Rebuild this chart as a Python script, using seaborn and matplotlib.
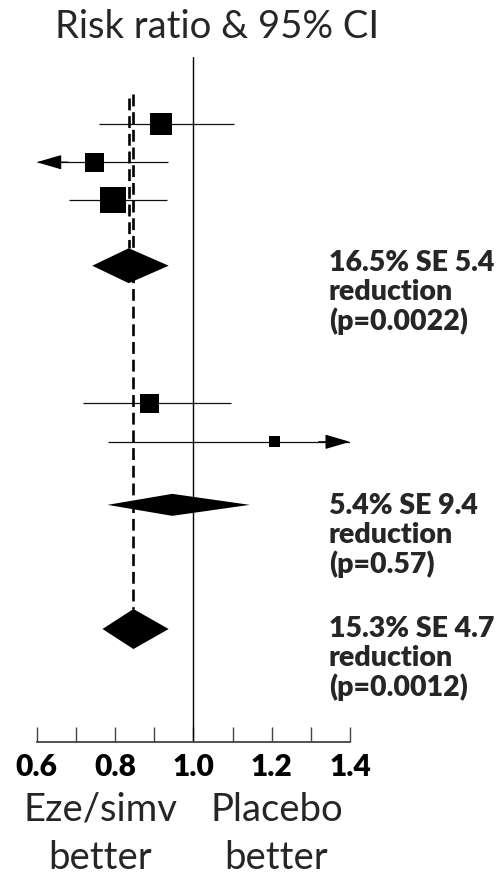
import matplotlib
matplotlib.use("Agg")
import matplotlib.pyplot as plt
import pandas as pd
import seaborn as sns

# ---- data -------------------------------------------------------------
outcomes = ["Major coronary event", "Non-haemorrhagic stroke",
            "Any revascularisation", "Other cardiac death",
            "Haemorrhagic stroke"]
rr = [0.918, 0.747, 0.795, 0.888, 1.208]
ci_low = [0.759, 0.56, 0.683, 0.718, 0.782]
ci_high = [1.104, 0.935, 0.932, 1.096, 1.86]

summary_names = ["Major atherosclerotic event", "Other major vascular event",
                 "Major vascular event"]
summary_rr = [0.835, 0.946, 0.847]
summary_low = [0.742, 0.781, 0.768]
summary_high = [0.937, 1.144, 0.937]
summary_text = ["16.5% SE 5.4\nreduction\n(p=0.0022)",
                "5.4% SE 9.4\nreduction\n(p=0.57)",
                "15.3% SE 4.7\nreduction\n(p=0.0012)"]

tick_values = [0.6, 0.8, 1.0, 1.2, 1.4]
tick_labels = ["0.6", "0.8", "1.0", "1.2", "1.4"]
minor_tick_values = [0.7, 0.9, 1.1, 1.3]

# ---- layout (row positions, box sizes, diamond half-heights) ----------
outcome_rows = [0.0, 1.0, 2.0, 7.31, 8.32]
summary_rows = [3.71, 9.97, 13.22]
box_px = [22, 19, 26, 18.7, 10.7]
diamond_half = [0.458, 0.288, 0.524]
text_rows = [5.39, 11.75, 14.97]     # baseline of the last text line
dash_top = [-0.68, -0.785]
x_min, x_max = 0.6, 1.4

W, H = 498, 876
DPI = 100

sns.set_theme(style="white")
plt.rcParams["font.family"] = ["Lato", "DejaVu Sans"]

fig = plt.figure(figsize=(W / DPI, H / DPI), dpi=DPI)
ax = fig.add_axes([36.7 / W, (H - 742) / H, 313.3 / W, (742 - 57) / H])
ax.set_xlim(x_min, x_max)
ax.set_ylim(16.178, -1.754)

# confidence interval lines, clipped to the axis range with arrowheads
for lo, hi, y in zip(ci_low, ci_high, outcome_rows):
    a, b = max(lo, x_min), min(hi, x_max)
    ax.hlines(y, a, b, color="#111111", lw=0.9, zorder=2)
    head = dict(arrowstyle="-|>,head_length=1.3,head_width=0.38",
                color="black", lw=0.9, shrinkA=0, shrinkB=0)
    if lo < x_min:
        ax.annotate("", xy=(x_min, y), xytext=(x_min + 0.08, y),
                    arrowprops=head, annotation_clip=False, zorder=3)
    if hi > x_max:
        ax.annotate("", xy=(x_max, y), xytext=(x_max - 0.08, y),
                    arrowprops=head, annotation_clip=False, zorder=3)

# boxes sized by weight
df = pd.DataFrame({"outcome": outcomes, "rr": rr, "row": outcome_rows})
areas = {name: (px * 72 / DPI) ** 2 for name, px in zip(outcomes, box_px)}
sns.scatterplot(data=df, x="rr", y="row", size="outcome", sizes=areas,
                marker="s", color="black", linewidth=0, legend=False,
                ax=ax, zorder=4)

# summary diamonds
for est, lo, hi, y, h in zip(summary_rr, summary_low, summary_high,
                             summary_rows, diamond_half):
    ax.fill([lo, est, hi, est], [y, y - h, y, y + h], color="black",
            lw=0, zorder=4)

# dashed reference lines at the summary estimates
ax.plot([summary_rr[0]] * 2, [dash_top[0], summary_rows[0] - diamond_half[0]],
        color="black", lw=1.9, dashes=(4.5, 2.2), zorder=3)
ax.plot([summary_rr[2]] * 2, [dash_top[1], summary_rows[2] - diamond_half[2]],
        color="black", lw=1.9, dashes=(4.5, 2.2), zorder=3)

# line of no effect
ax.axvline(1.0, color="black", lw=1.0, zorder=1)

# summary annotations
for txt, y in zip(summary_text, text_rows):
    ax.text(1.346, y, txt, fontsize=20.5, fontweight="heavy", va="baseline",
            ha="left", linespacing=1.12, clip_on=False)

# axis styling
for side in ["left", "top", "right"]:
    ax.spines[side].set_visible(False)
ax.spines["bottom"].set_color("#444444")
ax.spines["bottom"].set_linewidth(1.3)
ax.set_xticks(tick_values)
ax.set_xticks(minor_tick_values, minor=True)
ax.set_xticklabels(tick_labels)
ax.tick_params(axis="x", which="both", direction="in", length=10.8,
               width=1.0, color="#444444", pad=8, bottom=True)
ax.set_yticks([])
ax.set_xlabel("")
ax.set_ylabel("")
for lab in ax.get_xticklabels():
    lab.set_fontsize(21.5)
    lab.set_fontweight("heavy")
    lab.set_color("black")

# title and direction labels
fig.text(217 / W, 1 - 38 / H, "Risk ratio & 95% CI", fontsize=27.5,
         ha="center", va="baseline")
fig.text(100 / W, 1 - 869 / H, "Eze/simv\nbetter", fontsize=27.5,
         ha="center", va="baseline", multialignment="center",
         linespacing=1.43)
fig.text(276.5 / W, 1 - 869 / H, "Placebo\nbetter", fontsize=27.5,
         ha="center", va="baseline", multialignment="center",
         linespacing=1.43)

fig.savefig("out.png", dpi=DPI)
